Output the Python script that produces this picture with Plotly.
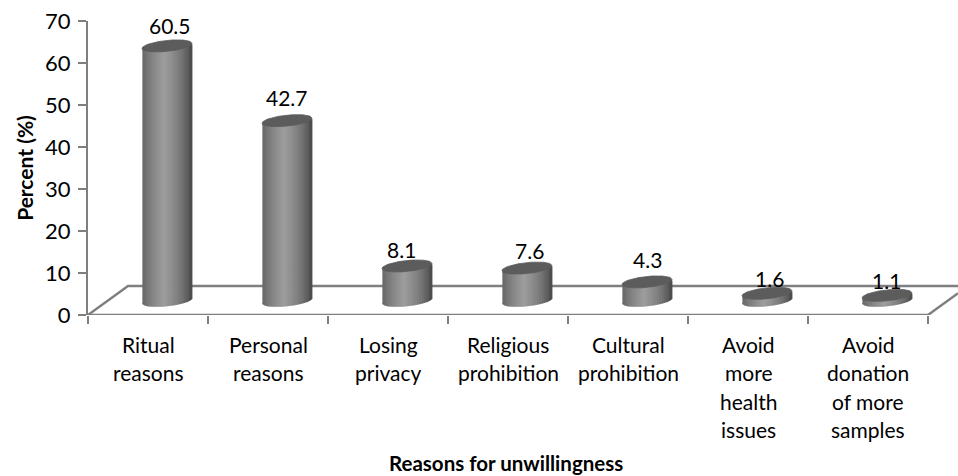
import numpy as np
import plotly.graph_objects as go

# Survey results
category_lines = [
    ["Ritual", "reasons"],
    ["Personal", "reasons"],
    ["Losing", "privacy"],
    ["Religious", "prohibition"],
    ["Cultural", "prohibition"],
    ["Avoid", "more", "health", "issues"],
    ["Avoid", "donation", "of more", "samples"],
]
values = [60.5, 42.7, 8.1, 7.6, 4.3, 1.6, 1.1]
y_ticks = [0, 10, 20, 30, 40, 50, 60, 70]
x_title = "Reasons for unwillingness"
y_title = "Percent (%)"

# Canvas and plot frame
WIDTH, HEIGHT = 958, 476
LEFT, TOP, BOTTOM = 88, 21, 315
PX_PER_CAT = 120.0
PX_PER_UNIT = (BOTTOM - TOP) / 70.0
X_MIN = -0.5
X_MAX = X_MIN + (WIDTH - LEFT) / PX_PER_CAT

# Pseudo-3D projection of the chart floor, in pixels
DEPTH_X, DEPTH_Y = 40, 29
BAR_SHIFT_X, BAR_SHIFT_Y = 19, 15
RADIUS_PX, CAP_PX, TILT_PX = 25, 5.5, 2.5
AXIS_COLOR = "#7f7f7f"
TEXT_FONT = "Lato, Carlito, Calibri, sans-serif"

# Hand-placed nudges of the value labels relative to each cylinder, in pixels
LABEL_DX = [2.5, -0.5, -5.5, 2, 0, 2, -1]
LABEL_LIFT = [20, 23, 16, 18, 22, 15, 15]


def ux(px):
    return px / PX_PER_CAT


def uy(px):
    return px / PX_PER_UNIT


def shade(u):
    """Grey level across a cylinder, dark at the rims and lighter left of centre."""
    t = np.clip(1 - abs(u + 0.12) / 1.12, 0, 1)
    level = 58 + 100 * t ** 0.55
    return int(level)


def front_arc(u):
    """Downward offset, in pixels, of the near rim of an ellipse at position u."""
    return -TILT_PX * u + CAP_PX * np.sqrt(np.clip(1 - u * u, 0, 1))


def back_arc(u):
    return -TILT_PX * u - CAP_PX * np.sqrt(np.clip(1 - u * u, 0, 1))


fig = go.Figure()

# Floor outline
fig.add_trace(go.Scatter(
    x=[X_MIN, X_MIN + 7, None, X_MIN, X_MIN + ux(DEPTH_X), X_MAX, None,
       X_MIN + 7, X_MAX],
    y=[0, 0, None, 0, uy(DEPTH_Y), uy(DEPTH_Y), None,
       0, uy(DEPTH_Y) * (X_MAX - X_MIN - 7) / ux(DEPTH_X)],
    mode="lines", line=dict(color=AXIS_COLOR, width=2.4),
    hoverinfo="skip", showlegend=False, cliponaxis=False,
))

# Cylinders: vertical bands of shaded grey, one trace per band
edges = np.linspace(-0.985, 0.985, 21)
base = uy(BAR_SHIFT_Y)
for lo, hi in zip(edges[:-1], edges[1:]):
    xs, ys = [], []
    us = np.linspace(lo, hi, 4)
    for i, v in enumerate(values):
        cx = i + ux(BAR_SHIFT_X)
        top = base + v
        xs += list(cx + ux(RADIUS_PX) * us) + list(cx + ux(RADIUS_PX) * us[::-1]) + [None]
        ys += [top - uy(front_arc(u)) for u in us] + \
              [base - uy(front_arc(u)) for u in us[::-1]] + [None]
    g = shade((lo + hi) / 2)
    col = f"rgb({g},{g},{g})"
    fig.add_trace(go.Scatter(
        x=xs, y=ys, mode="lines", fill="toself", fillcolor=col,
        line=dict(color=col, width=1.6), hoverinfo="skip", showlegend=False,
    ))

# Top caps
us = np.linspace(-1, 1, 60)
cap_x, cap_y = [], []
for i, v in enumerate(values):
    cx = i + ux(BAR_SHIFT_X)
    top = base + v
    cap_x += list(cx + ux(RADIUS_PX) * us) + list(cx + ux(RADIUS_PX) * us[::-1]) + [None]
    cap_y += [top - uy(front_arc(u)) for u in us] + \
             [top - uy(back_arc(u)) for u in us[::-1]] + [None]
fig.add_trace(go.Scatter(
    x=cap_x, y=cap_y, mode="lines", fill="toself", fillcolor="#5c5c5c",
    line=dict(color="#5c5c5c", width=0.8), hoverinfo="skip", showlegend=False,
))

annotations = []

# Value labels above each cylinder
for i, v in enumerate(values):
    annotations.append(dict(
        x=i + ux(BAR_SHIFT_X + LABEL_DX[i]), y=base + v + uy(LABEL_LIFT[i]),
        xref="x", yref="y", text=f"{v:.1f}", showarrow=False, yanchor="middle",
        font=dict(family=TEXT_FONT, size=21, color="#000000"),
    ))

# Category labels, one annotation per line for the wider line spacing
for i, lines in enumerate(category_lines):
    for j, line in enumerate(lines):
        annotations.append(dict(
            x=i, y=0, xref="x", yref="y", text=line, showarrow=False,
            yanchor="middle", yshift=-(29 + 28.5 * j),
            font=dict(family=TEXT_FONT, size=21, color="#000000"),
        ))

# Horizontal axis title, placed as a fraction of the plot area
plot_w, plot_h = WIDTH - LEFT, BOTTOM - TOP
annotations.append(dict(
    x=(506 - LEFT) / plot_w, y=(BOTTOM - 462.5) / plot_h,
    xref="paper", yref="paper", text=f"<b>{x_title}</b>", showarrow=False,
    xanchor="center", yanchor="middle",
    font=dict(family=TEXT_FONT, size=20.5, color="#000000"),
))

fig.update_layout(
    width=WIDTH, height=HEIGHT,
    margin=dict(l=LEFT, r=0, t=TOP, b=HEIGHT - BOTTOM, pad=0),
    paper_bgcolor="white", plot_bgcolor="white",
    showlegend=False, annotations=annotations,
    xaxis=dict(
        range=[X_MIN, X_MAX], showgrid=False, zeroline=False, showline=False,
        showticklabels=False, ticks="",
        minor=dict(tickmode="array", tickvals=[X_MIN + k for k in range(8)],
                   ticks="outside", ticklen=8, tickwidth=1.5, tickcolor=AXIS_COLOR,
                   showgrid=False),
    ),
    yaxis=dict(
        range=[0, 70], tickvals=y_ticks, showgrid=False, zeroline=False,
        showline=True, linecolor=AXIS_COLOR, linewidth=2,
        ticks="outside", ticklen=8, tickwidth=1.5, tickcolor=AXIS_COLOR,
        ticklabelstandoff=3,
        tickfont=dict(family=TEXT_FONT, size=22, color="#000000"),
        title=dict(text=f"<b>{y_title}</b>", standoff=6,
                   font=dict(family=TEXT_FONT, size=21, color="#000000")),
    ),
)

fig.write_html("out.html", config=dict(displayModeBar=False))
